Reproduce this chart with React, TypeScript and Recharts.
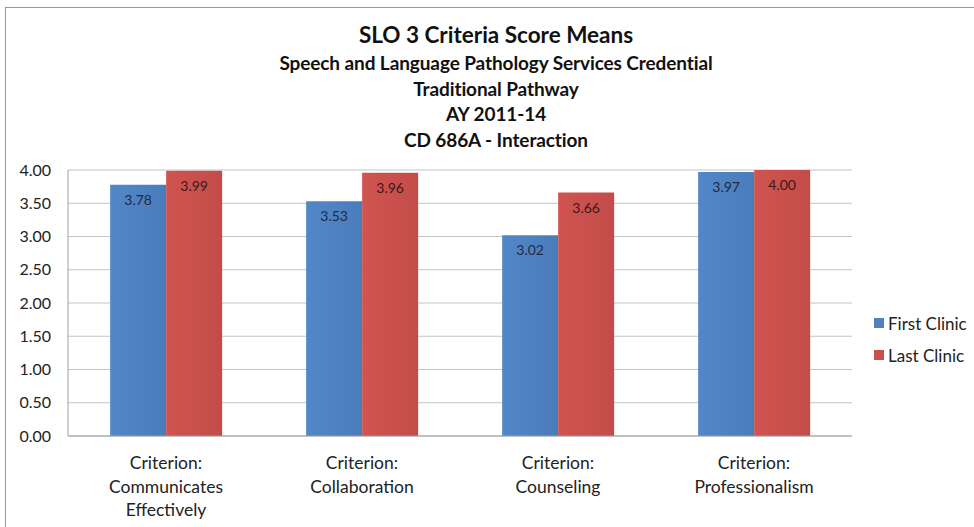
import { BarChart, Bar, XAxis, YAxis, CartesianGrid, LabelList } from 'recharts'

const CATEGORIES = [
  'Criterion:\nCommunicates\nEffectively',
  'Criterion:\nCollaboration',
  'Criterion:\nCounseling',
  'Criterion:\nProfessionalism',
]
const FIRST_CLINIC = [3.78, 3.53, 3.02, 3.97]
const LAST_CLINIC = [3.99, 3.96, 3.66, 4.0]
const Y_TICKS = [0, 0.5, 1, 1.5, 2, 2.5, 3, 3.5, 4]

const TITLE = 'SLO 3 Criteria Score Means'
const SUBTITLES = [
  'Speech and Language Pathology Services Credential',
  'Traditional Pathway',
  'AY 2011-14',
  'CD 686A - Interaction',
]

const data = CATEGORIES.map((name, i) => ({
  name,
  first: FIRST_CLINIC[i],
  last: LAST_CLINIC[i],
}))

const FONT = 'Lato, "Open Sans", sans-serif'
const BLUE = '#4f81bd'
const RED = '#c9504d'

function CategoryTick({ x, y, payload }: { x?: number; y?: number; payload?: { value: string } }) {
  const lines = String(payload?.value ?? '').split('\n')
  return (
    <text x={x} y={(y ?? 0) + 25} textAnchor="middle" fill="#222" fontSize={17.5} fontFamily={FONT}>
      {lines.map((l, i) => (
        <tspan key={i} x={x} dy={i === 0 ? 0 : 23.5}>{l}</tspan>
      ))}
    </text>
  )
}

function LegendBox() {
  const items = [
    { label: 'First Clinic', color: BLUE },
    { label: 'Last Clinic', color: RED },
  ]
  return (
    <div style={{ position: 'absolute', left: 874, top: 307, fontFamily: FONT, fontSize: 17, color: '#222' }}>
      {items.map((it) => (
        <div key={it.label} style={{ display: 'flex', alignItems: 'center', height: 32 }}>
          <span style={{ width: 10, height: 10, background: it.color, marginRight: 4, display: 'inline-block' }} />
          {it.label}
        </div>
      ))}
    </div>
  )
}

export default function App() {
  return (
    <div style={{ position: 'absolute', left: 0, top: 0, width: 974, height: 527, background: '#fff', overflow: 'hidden' }}>
      <div style={{ position: 'absolute', left: 5, top: 7, width: 980, height: 540, border: '1px solid #9a9a9a' }} />
      <div style={{ position: 'absolute', left: 0, width: 992, top: 20, textAlign: 'center', fontFamily: FONT, color: '#111' }}>
        <div style={{ fontSize: 22.5, fontWeight: 700, lineHeight: '30px' }}>{TITLE}</div>
        {SUBTITLES.map((s) => (
          <div key={s} style={{ fontSize: 19, fontWeight: 700, lineHeight: '25.5px', letterSpacing: -0.1 }}>{s}</div>
        ))}
      </div>
      <BarChart
        width={974}
        height={527}
        data={data}
        margin={{ top: 170, right: 122, left: 8, bottom: 11 }}
        barCategoryGap="21.5%"
        barGap={0}
        style={{ position: 'absolute', left: 0, top: 0 }}
      >
        <defs>
          <linearGradient id="blueGrad" x1="0" y1="0" x2="1" y2="0">
            <stop offset="0%" stopColor="#5287c8" />
            <stop offset="100%" stopColor="#4a7cba" />
          </linearGradient>
          <linearGradient id="redGrad" x1="0" y1="0" x2="1" y2="0">
            <stop offset="0%" stopColor="#d05450" />
            <stop offset="100%" stopColor="#c34c49" />
          </linearGradient>
        </defs>
        <CartesianGrid vertical={false} stroke="#c4c4c4" />
        <XAxis
          dataKey="name"
          interval={0}
          height={80}
          tick={<CategoryTick />}
          tickLine={false}
          axisLine={{ stroke: '#a0a0a0' }}
        />
        <YAxis
          domain={[0, 4]}
          ticks={Y_TICKS}
          width={60}
          tickFormatter={(v: number) => v.toFixed(2)}
          tick={{ fill: '#222', fontSize: 16, fontFamily: FONT, dx: -9 }}
          tickLine={false}
          axisLine={{ stroke: '#a0a0a0' }}
        />
        <Bar dataKey="first" name="First Clinic" fill="url(#blueGrad)" isAnimationActive={false}>
          <LabelList
            dataKey="first"
            position="insideTop"
            offset={10}
            formatter={(v: number) => v.toFixed(2)}
            style={{ fill: '#1f2a44', fontSize: 14, fontFamily: FONT }}
          />
        </Bar>
        <Bar dataKey="last" name="Last Clinic" fill="url(#redGrad)" isAnimationActive={false}>
          <LabelList
            dataKey="last"
            position="insideTop"
            offset={10}
            formatter={(v: number) => v.toFixed(2)}
            style={{ fill: '#3a1a1a', fontSize: 14, fontFamily: FONT }}
          />
        </Bar>
      </BarChart>
      <LegendBox />
    </div>
  )
}
